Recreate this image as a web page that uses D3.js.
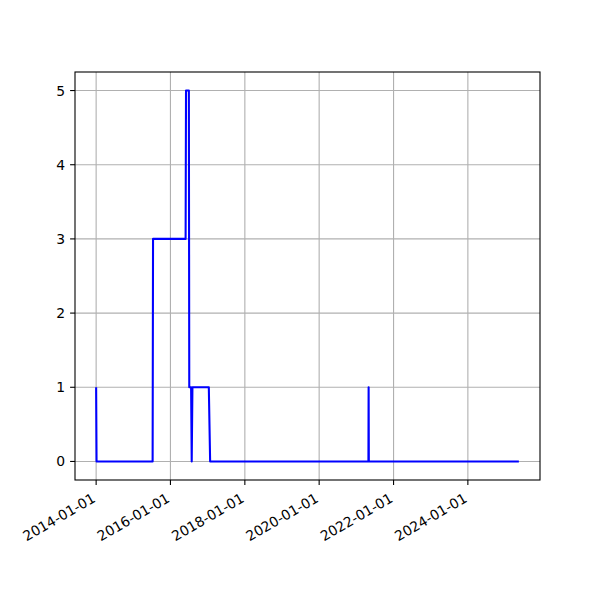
<!DOCTYPE html>
<html><head><meta charset="utf-8">
<script src="https://cdn.jsdelivr.net/npm/d3@7"></script>
<style>body{margin:0;background:#fff}svg{display:block}text{font-family:"DejaVu Sans",sans-serif}</style>
</head><body>
<script>
const dates = ["2014-01-01","2014-01-05","2015-07-10","2015-07-14","2016-05-29","2016-06-02","2016-06-30","2016-07-04","2016-07-22","2016-07-28","2016-08-04","2017-01-12","2017-01-25","2021-04-29","2021-05-01","2021-05-03","2025-05-16"];
const values = [1,0,0,3,3,5,5,1,1,0,1,1,0,0,1,0,0];
const xTickLabels = ["2014-01-01","2016-01-01","2018-01-01","2020-01-01","2022-01-01","2024-01-01"];
const yTickValues = [0,1,2,3,4,5];

const W=600,H=600, L=75,R=540,T=72,B=480;
const parse = d3.utcParse("%Y-%m-%d");
const data = dates.map((d,i)=>({x:parse(d), y:values[i]}));
const xmin = d3.min(data,d=>d.x), xmax = d3.max(data,d=>d.x);
const pad = (xmax-xmin)*0.05;
const x = d3.scaleUtc().domain([new Date(+xmin-pad), new Date(+xmax+pad)]).range([L,R]);
const ymin=d3.min(values), ymax=d3.max(values), yp=(ymax-ymin)*0.05;
const y = d3.scaleLinear().domain([ymin-yp, ymax+yp]).range([B,T]);

const svg = d3.select("body").append("svg").attr("width",W).attr("height",H);
const xt = xTickLabels.map(parse);
// grid
svg.append("g").selectAll("line").data(xt).join("line")
  .attr("x1",d=>x(d)).attr("x2",d=>x(d)).attr("y1",T).attr("y2",B)
  .attr("stroke","#b0b0b0").attr("stroke-width",1.1);
svg.append("g").selectAll("line").data(yTickValues).join("line")
  .attr("y1",d=>y(d)).attr("y2",d=>y(d)).attr("x1",L).attr("x2",R)
  .attr("stroke","#b0b0b0").attr("stroke-width",1.1);
// line
svg.append("path").datum(data)
  .attr("d", d3.line().x(d=>x(d.x)).y(d=>y(d.y)))
  .attr("fill","none").attr("stroke","#0000ff").attr("stroke-width",2.08)
  .attr("stroke-linejoin","round");
// frame
svg.append("rect").attr("x",L).attr("y",T).attr("width",R-L).attr("height",B-T)
  .attr("fill","none").attr("stroke","#000").attr("stroke-width",1.1);
// x axis ticks
const xa = svg.append("g");
xa.selectAll("line").data(xt).join("line")
  .attr("x1",d=>x(d)).attr("x2",d=>x(d)).attr("y1",B).attr("y2",B+4.9)
  .attr("stroke","#000").attr("stroke-width",1.1);
xa.selectAll("text").data(xt).join("text")
  .attr("transform",(d,i)=>`translate(${x(d)+0.3},${B+4.9+4.9+11.3}) rotate(-30)`)
  .attr("text-anchor","end").attr("font-size","13.9px").attr("fill","#000")
  .text((d,i)=>xTickLabels[i]);
// y axis ticks
const ya = svg.append("g");
ya.selectAll("line").data(yTickValues).join("line")
  .attr("x1",L-4.9).attr("x2",L).attr("y1",d=>y(d)).attr("y2",d=>y(d))
  .attr("stroke","#000").attr("stroke-width",1.1);
ya.selectAll("text").data(yTickValues).join("text")
  .attr("x",L-4.9-4.9).attr("y",d=>y(d)).attr("dy","0.36em")
  .attr("text-anchor","end").attr("font-size","13.9px").attr("fill","#000")
  .text(d=>d);
</script>
</body></html>
